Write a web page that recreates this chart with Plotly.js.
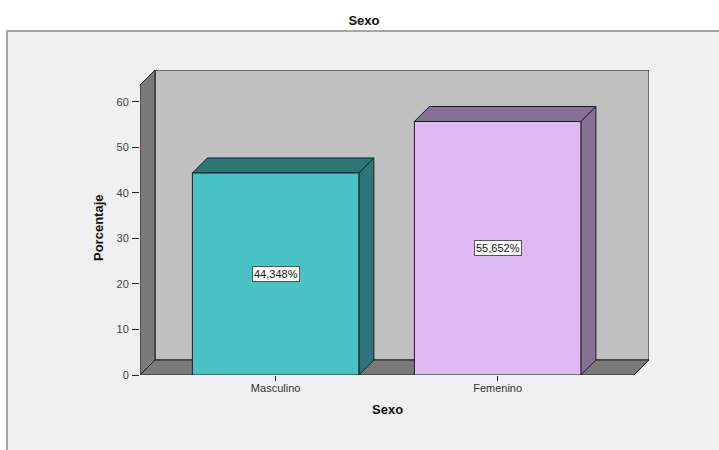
<!DOCTYPE html>
<html>
<head>
<meta charset="utf-8">
<script src="https://cdn.plot.ly/plotly-3.0.1.min.js"></script>
<style>
  html, body { margin: 0; padding: 0; background: #fff; }
  #chart { width: 719px; height: 450px; }
</style>
</head>
<body>
<div id="chart"></div>
<script>
// data
const categories = ['Masculino', 'Femenino'];
const percentages = [44.348, 55.652];
const frontColors = ['#48c2c5', '#ddb8f1'];
const sideColors = ['#2e7676', '#857195'];
const yTicks = [0, 10, 20, 30, 40, 50, 60];

// plot geometry (px)
const W = 719, H = 450;
const mL = 140, mR = 70, mT = 70, mB = 75;
const plotW = W - mL - mR, plotH = H - mT - mB;
const xRange = [-0.611, -0.611 + plotW / 222];
const yRange = [0, plotH / 4.555];
const pxX = plotW / (xRange[1] - xRange[0]);
const pxY = plotH / (yRange[1] - yRange[0]);

// 3d depth offset, converted into data units
const DX = 15 / pxX, DY = 15 / pxY;
const barW = 0.75;
const wallTop = yRange[1] - DY;
const frontRight = xRange[1] - DX;
const edge = { color: '#1e1e1e', width: 1 };
const FONT = 'Liberation Sans, Arial, sans-serif';

function poly(pts, fill, layer) {
  const path = 'M' + pts.map(p => p[0] + ',' + p[1]).join(' L') + ' Z';
  return { type: 'path', xref: 'x', yref: 'y', path: path, fillcolor: fill, line: edge, layer: layer || 'below' };
}

const x0 = xRange[0];
const shapes = [
  // outer frame
  { type: 'rect', xref: 'paper', yref: 'paper', layer: 'below',
    x0: (7 - mL) / plotW, x1: (W + 5 - mL) / plotW,
    y0: (H - mB - (H + 5)) / plotH, y1: (H - mB - 31) / plotH,
    fillcolor: '#f0f0f0', line: { color: '#8a8a8a', width: 1.5 } },
  // back wall
  poly([[x0 + DX, DY], [xRange[1], DY], [xRange[1], yRange[1]], [x0 + DX, yRange[1]]], '#c0c0c0'),
  // left wall
  poly([[x0, 0], [x0 + DX, DY], [x0 + DX, yRange[1]], [x0, wallTop]], '#7a7a7a'),
  // floor
  poly([[x0, 0], [frontRight, 0], [xRange[1], DY], [x0 + DX, DY]], '#7a7a7a')
];

categories.forEach((c, i) => {
  const v = percentages[i];
  const l = i - barW / 2, r = i + barW / 2;
  shapes.push(poly([[l, v], [r, v], [r + DX, v + DY], [l + DX, v + DY]], sideColors[i]));
  shapes.push(poly([[r, 0], [r + DX, DY], [r + DX, v + DY], [r, v]], sideColors[i]));
});

const annotations = categories.map((c, i) => ({
  x: i, y: percentages[i] / 2, xref: 'x', yref: 'y', showarrow: false,
  xanchor: 'center', yanchor: 'middle',
  text: percentages[i].toFixed(3).replace('.', ',') + '%',
  font: { family: FONT, size: 11, color: '#111' },
  bgcolor: '#ffffff', bordercolor: '#555', borderwidth: 1, borderpad: 1
}));

annotations.push({
  xref: 'paper', yref: 'paper', x: (387 - mL) / plotW, y: (H - mB - 409) / plotH,
  xanchor: 'center', yanchor: 'middle',
  showarrow: false, text: '<b>Sexo</b>',
  font: { family: FONT, size: 13, color: '#111' }
});
annotations.push({
  xref: 'paper', yref: 'paper', x: (98 - mL) / plotW, y: (H - mB - 228) / plotH,
  xanchor: 'center', yanchor: 'middle',
  showarrow: false, textangle: -90, text: '<b>Porcentaje</b>',
  font: { family: FONT, size: 13, color: '#111' }
});

const trace = {
  type: 'bar', x: [0, 1], y: percentages, width: barW,
  marker: { color: frontColors, line: edge },
  hoverinfo: 'skip'
};

const layout = {
  width: W, height: H,
  margin: { l: mL, r: mR, t: mT, b: mB },
  paper_bgcolor: '#ffffff', plot_bgcolor: 'rgba(0,0,0,0)',
  showlegend: false,
  font: { family: FONT, size: 11, color: '#333' },
  title: { text: '<b>Sexo</b>', x: 364 / W, xref: 'container', xanchor: 'center',
           y: 1 - 20 / H, yref: 'container', yanchor: 'middle',
           font: { family: FONT, size: 13, color: '#111' } },
  xaxis: {
    range: xRange, tickmode: 'array', tickvals: [0, 1], ticktext: categories,
    ticks: 'outside', ticklen: 5, tickcolor: '#222', showgrid: false, zeroline: false,
    showline: false, fixedrange: true, ticklabelstandoff: -2, tickfont: { size: 11, color: '#333' }
  },
  yaxis: {
    range: yRange, tickmode: 'array', tickvals: yTicks,
    ticks: 'outside', ticklen: 7, tickcolor: '#222', showgrid: false, zeroline: false,
    showline: false, fixedrange: true, ticklabelstandoff: 1, tickfont: { size: 11, color: '#444' }
  },
  shapes: shapes,
  annotations: annotations
};

Plotly.newPlot('chart', [trace], layout, { displayModeBar: false, staticPlot: true });
</script>
</body>
</html>
